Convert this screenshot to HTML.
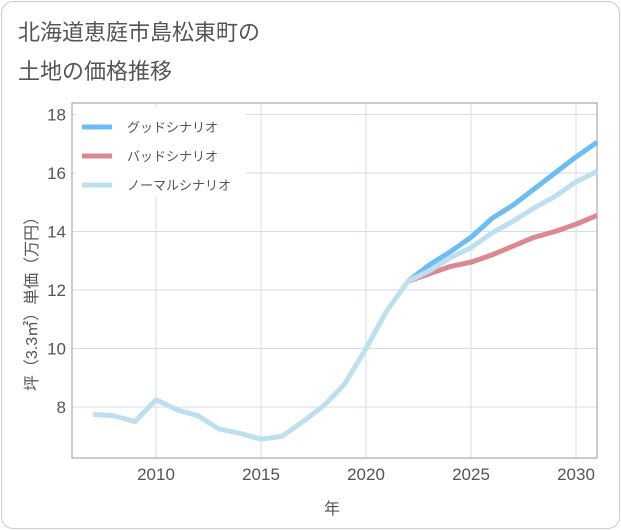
<!DOCTYPE html>
<html><head><meta charset="utf-8">
<style>
body{margin:0;background:#fff;font-family:"Liberation Sans","Noto Sans CJK JP",sans-serif;}
.card{position:absolute;left:1px;top:1px;width:617px;height:526px;border:1px solid #ccc;border-radius:12px;background:#fff;}
.title{position:absolute;left:18px;top:13px;font-size:22px;line-height:39px;color:#555;}
</style></head><body>
<div class="card"></div>
<div class="title">北海道恵庭市島松東町の<br>土地の価格推移</div>
<svg id="c" width="621" height="530" style="position:absolute;left:0;top:0"></svg>
<script>
const years=[2007,2008,2009,2010,2011,2012,2013,2014,2015,2016,2017,2018,2019,2020,2021,2022,2023,2024,2025,2026,2027,2028,2029,2030,2031];
const normal=[7.75,7.7,7.5,8.25,7.9,7.7,7.25,7.1,6.9,7.0,7.5,8.05,8.8,10.0,11.3,12.3,12.65,13.1,13.45,13.95,14.35,14.8,15.2,15.7,16.05];
const futYears=[2022,2023,2024,2025,2026,2027,2028,2029,2030,2031];
const good=[12.3,12.85,13.3,13.8,14.45,14.9,15.45,16.0,16.55,17.05];
const bad=[12.3,12.55,12.8,12.95,13.2,13.5,13.8,14.0,14.25,14.55];
const xTicks=[2010,2015,2020,2025,2030];
const yTicks=[8,10,12,14,16,18];
const legendLabels=["グッドシナリオ","バッドシナリオ","ノーマルシナリオ"];
const NS="http://www.w3.org/2000/svg",svg=document.getElementById('c');
const L=72,R=597,T=103,B=458;
const x=v=>L+(v-2006)*(R-L)/25;
const y=v=>407-(v-8)*29.25;
function mk(t,a,p){const e=document.createElementNS(NS,t);for(const k in a)e.setAttribute(k,a[k]);(p||svg).appendChild(e);return e;}
for(const t of xTicks){const g=mk('line',{x1:x(t),x2:x(t),y1:T,y2:B,stroke:'#d5dde8'});

const tx=mk('text',{x:x(t),y:B+22,'text-anchor':'middle','font-size':17,fill:'#555'});tx.textContent=t;
}
for(const t of yTicks){const g=mk('line',{x1:L,x2:R,y1:y(t),y2:y(t),stroke:'#d5dde8'});

const tx=mk('text',{x:L-6,y:y(t)+6,'text-anchor':'end','font-size':17,fill:'#555'});tx.textContent=t;
}
const fr=mk('rect',{x:L,y:T,width:R-L,height:B-T,fill:'none',stroke:'#999'});

function line(xs,vs,c,n){const p=mk('polyline',{points:xs.map((v,i)=>x(v)+','+y(vs[i])).join(' '),fill:'none',stroke:c,'stroke-width':5,'stroke-linejoin':'round'});
}
line(futYears,good,'#6bbdf2','good-scenario-line');
line(futYears,bad,'#dd8890','bad-scenario-line');
line(years,normal,'#bde0ef','normal-scenario-line');
const lg=mk('rect',{x:76,y:108,width:170,height:88,fill:'#fff'});

const lc=['#6bbdf2','#dd8890','#bde0ef'];
legendLabels.forEach((s,i)=>{const yy=127+i*29;
const ln=mk('line',{x1:82,x2:112,y1:yy,y2:yy,stroke:lc[i],'stroke-width':5});

const t=mk('text',{x:127,y:yy+5,'font-size':13,fill:'#555'});t.textContent=s;
});
const xt=mk('text',{x:332,y:514,'text-anchor':'middle','font-size':16,fill:'#555'});xt.textContent='年';

const yt=mk('text',{x:0,y:0,'text-anchor':'middle','font-size':16,fill:'#555',transform:'translate(37,300) rotate(-90)'});yt.textContent='坪（3.3㎡）単価（万円）';

</script>
</body></html>
